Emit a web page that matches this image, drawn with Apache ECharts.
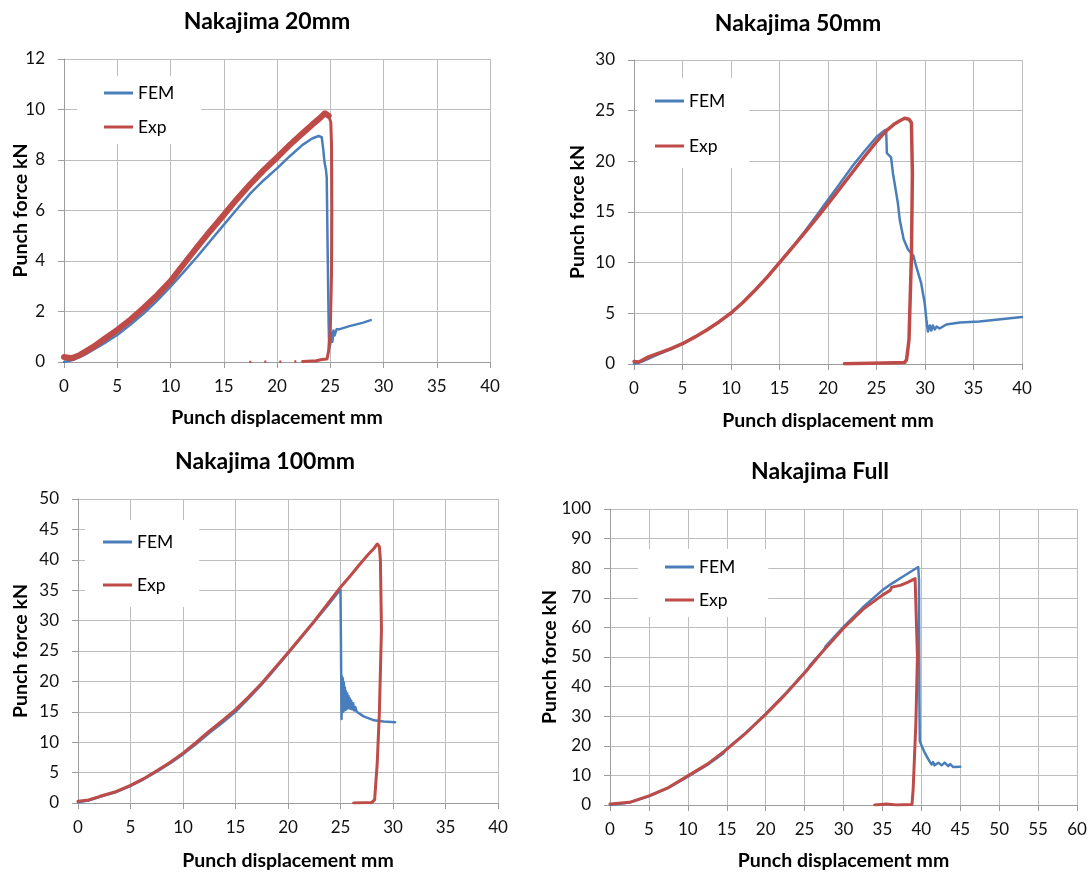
<!DOCTYPE html>
<html>
<head>
<meta charset="utf-8">
<script src="https://cdn.jsdelivr.net/npm/echarts@6/dist/echarts.min.js"></script>
<style>
  html, body { margin: 0; padding: 0; background: #fff; }
  #chart { width: 1090px; height: 872px; }
</style>
</head>
<body>
<div id="chart"></div>
<script>
// panel titles and axis ranges
const titles = ['Nakajima 20mm', 'Nakajima 50mm', 'Nakajima 100mm', 'Nakajima Full'];
const xMax = [40, 40, 40, 60];
const yMax = [12, 30, 50, 100];
const yStep = [2, 5, 5, 10];

// Nakajima 20mm  [displacement mm, force kN]
const fem20 = [[0,0],[1,0.1],[2,0.3],[3,0.55],[4,0.8],[5,1.07],[6.25,1.48],[7.5,1.93],[8.75,2.43],[10,2.98],[11.25,3.57],[12.5,4.17],[13.75,4.8],[15,5.43],[16.25,6.06],[17.5,6.68],[18.75,7.2],[20,7.67],[21.2,8.15],[22.4,8.6],[23.3,8.85],[23.9,8.95],[24.2,8.9],[24.35,8.4],[24.45,7.95],[24.6,7.6],[24.67,7.3],[24.76,4.3],[24.85,1.5],[24.9,0.55],[25.0,0.7],[25.1,1.15],[25.2,0.8],[25.3,1.25],[25.4,1.05],[25.6,1.3],[25.9,1.3],[26.8,1.42],[28.1,1.56],[28.8,1.66]];
const exp20Rise = [[0,0.2],[0.7,0.15],[1.5,0.28],[2.75,0.6],[3.75,0.9],[5,1.27],[6.25,1.68],[7.5,2.15],[8.75,2.65],[10,3.2],[11.25,3.88],[12.5,4.55],[13.75,5.2],[15,5.82],[16.25,6.46],[17.5,7.05],[18.75,7.6],[20,8.1],[21.2,8.6],[22.4,9.06],[23.3,9.4],[24,9.65],[24.5,9.85],[24.85,9.75]];
const exp20Drop = [[24.85,9.75],[25.05,9.5],[25.12,8.6],[25.15,6],[25.12,3.5],[25.0,1.2],[24.85,0.45],[24.7,0.12],[24.2,0.1],[23.7,0.05],[22.4,0.02]];
const exp20Dots = [[17.4,0],[22.4,0.02]];

// Nakajima 50mm
const fem50 = [[0,0],[1,0.3],[2.5,0.95],[3.75,1.45],[5,2.0],[6.25,2.65],[7.5,3.35],[8.75,4.15],[10,5.0],[11.25,6.1],[12.5,7.3],[13.75,8.6],[15,10.0],[16.25,11.45],[17.5,12.95],[18.75,14.55],[20,16.2],[21.25,17.85],[22.5,19.5],[23.75,21.0],[25,22.4],[25.5,22.8],[25.9,23.1],[26.0,22.9],[26.07,20.8],[26.5,20.4],[26.7,18.8],[27.2,15.9],[27.4,14.2],[27.8,12.3],[28.25,11.3],[28.8,10.7],[29.1,9.6],[29.6,8.0],[29.97,6.0],[30.14,4.4],[30.3,3.2],[30.5,3.8],[30.65,3.3],[30.8,3.8],[31.0,3.4],[31.2,3.7],[31.5,3.5],[32.2,3.9],[33.6,4.1],[35.6,4.2],[35.7,4.05],[35.8,4.25],[40,4.63]];
const exp50 = [[0,0.25],[0.5,0.2],[1.5,0.7],[2.5,1.05],[3.75,1.5],[5,2.0],[6.25,2.65],[7.5,3.35],[8.75,4.15],[10,5.03],[11.25,6.1],[12.5,7.3],[13.75,8.6],[15,10.0],[16.25,11.4],[17.5,12.85],[18.75,14.3],[20,15.8],[21.25,17.35],[22.5,18.9],[23.75,20.45],[25,21.95],[26,23.0],[26.8,23.65],[27.5,24.05],[27.9,24.25],[28.35,24.15],[28.6,23.8],[28.7,18.8],[28.6,10.6],[28.35,2.4],[28.1,0.43],[27.9,0.16],[25.7,0.1],[21.7,0.03]];

// Nakajima 100mm
const fem100 = [[0,0.1],[1,0.4],[2.1,1.0],[3.5,1.7],[5,2.8],[6.25,3.9],[7.5,5.15],[8.75,6.5],[10,8.0],[11.25,9.7],[12.5,11.5],[13.75,13.2],[15,15.0],[16.25,17.2],[17.5,19.5],[18.75,22.0],[20,24.6],[21.25,27.2],[22.5,29.8],[23.75,32.4],[25,35.1],[25.08,35.3],[25.1,13.8],[25.13,20.8],[25.17,16.0],[25.22,20.5],[25.27,15.0],[25.32,19.8],[25.37,15.5],[25.42,19.0],[25.47,15.3],[25.52,18.4],[25.58,15.5],[25.64,18.0],[25.7,15.6],[25.76,17.6],[25.82,15.6],[25.88,17.2],[25.95,15.5],[26.02,16.8],[26.1,15.4],[26.2,16.4],[26.3,15.2],[26.4,15.8],[26.55,15.0],[26.7,15.1],[27.2,14.25],[28.2,13.6],[29.1,13.4],[30.2,13.3]];
const exp100 = [[0,0.27],[1,0.5],[2.1,1.1],[3.5,1.8],[5,2.9],[6.25,4.0],[7.5,5.3],[8.75,6.65],[10,8.2],[11.25,9.95],[12.5,11.8],[13.75,13.55],[15,15.35],[16.25,17.45],[17.5,19.7],[18.75,22.2],[20,24.7],[21.25,27.3],[22.5,29.9],[23.75,32.7],[25,35.5],[26,37.5],[26.9,39.4],[27.7,41.0],[28.2,41.9],[28.5,42.6],[28.7,42.2],[28.8,40.0],[28.9,28.5],[28.7,14.8],[28.5,6.6],[28.25,0.55],[28.0,0.1],[26.25,0]];

// Nakajima Full
const femFull = [[0,0],[2.5,0.8],[5,2.9],[7.5,5.8],[10,9.6],[12.5,13.5],[14.6,17.5],[14.9,18.8],[17.5,24.5],[20,30.8],[22.5,37.5],[25,44.8],[25.5,46.2],[25.7,47.3],[27.5,52.5],[27.7,53.6],[30,60.2],[32.5,66.8],[35,72.6],[36.2,74.8],[37.7,77.3],[39.6,80.4],[39.7,76],[39.75,38],[39.8,21.6],[40.05,19.9],[40.45,17.6],[40.9,15.4],[41.3,13.7],[41.5,14.5],[41.7,13.4],[42.2,14.3],[42.6,13.4],[43.0,14.3],[43.45,13.1],[43.7,13.8],[44.1,12.8],[45,12.9]];
const expFull = [[0,0.3],[2.5,0.9],[5,3.1],[7.5,5.9],[10,9.85],[12.5,13.8],[15,18.8],[17.5,24.4],[20,30.6],[22.5,37.3],[25,44.6],[27.5,52.4],[30,59.7],[32.5,66.1],[35,70.9],[36,72.5],[36.2,73.6],[37.3,74.2],[38.3,75.3],[39.2,76.5],[39.4,76],[39.5,50.2],[39.3,27.8],[38.95,5.3],[38.8,0.2],[36.8,0],[35.5,0.3],[34,0]];

const BLUE = '#4a7ebb';
const RED = '#be4b48';
const FONT = 'Lato, "Noto Sans", sans-serif';

// layout of the four panels
const grids = [
  { left: 64, top: 59, width: 426, height: 303 },
  { left: 634, top: 60, width: 388, height: 304 },
  { left: 78, top: 499, width: 420, height: 304 },
  { left: 610, top: 509, width: 467, height: 297 }
];
const titlePos = [[267, 10], [798, 12], [265, 450], [820, 460]];
const yNameGap = [33, 46, 47, 50];
const xNameGap = [46, 47, 48, 46];
const legendBox = [
  { left: 77, top: 76, padding: [7, 27, 7, 27], itemGap: 14 },
  { left: 637, top: 78, padding: [13, 24, 12, 18], itemGap: 25 },
  { left: 85, top: 520, padding: [12, 26, 12, 18], itemGap: 23 },
  { left: 638, top: 549, padding: [8, 33, 7, 27], itemGap: 13 }
];

const line = (name, data, idx, color, width, extra) => Object.assign({
  name, type: 'line', data,
  xAxisIndex: idx, yAxisIndex: idx,
  showSymbol: false, symbol: 'none',
  lineStyle: { color, width, join: 'round', cap: 'round' },
  itemStyle: { color },
  animation: false
}, extra || {});

const chart = echarts.init(document.getElementById('chart'));

chart.setOption({
  backgroundColor: '#fff',
  animation: false,
  title: titles.map((t, i) => ({
    text: t,
    left: titlePos[i][0],
    top: titlePos[i][1],
    textAlign: 'center',
    padding: 0,
    textStyle: { fontFamily: FONT, fontSize: 23, fontWeight: 'bold', color: '#000' }
  })),
  legend: legendBox.map(b => ({
    data: ['FEM', 'Exp'],
    orient: 'vertical',
    left: b.left,
    top: b.top,
    padding: b.padding,
    itemGap: b.itemGap,
    backgroundColor: '#fff',
    icon: 'rect',
    itemWidth: 29,
    itemHeight: 3,
    selectedMode: false,
    textStyle: { fontFamily: FONT, fontSize: 17.5, color: '#000', lineHeight: 20 }
  })),
  grid: grids.map(g => Object.assign({ containLabel: false }, g)),
  xAxis: grids.map((g, i) => ({
    type: 'value', gridIndex: i,
    min: 0, max: xMax[i], interval: 5,
    name: 'Punch displacement mm',
    nameLocation: 'middle', nameGap: xNameGap[i],
    nameMoveOverlap: false,
    nameTextStyle: { fontFamily: FONT, fontSize: 19.5, fontWeight: 'bold', color: '#000' },
    axisLine: { show: true, lineStyle: { color: '#9c9c9c', width: 1 } },
    axisTick: { show: true, length: 6, lineStyle: { color: '#9c9c9c' } },
    axisLabel: { fontFamily: FONT, fontSize: 17, color: '#111', margin: 16 },
    splitLine: { show: true, lineStyle: { color: '#bdbdbd', width: 1 } }
  })),
  yAxis: grids.map((g, i) => ({
    type: 'value', gridIndex: i,
    min: 0, max: yMax[i], interval: yStep[i],
    name: 'Punch force kN',
    nameLocation: 'middle', nameGap: yNameGap[i], nameRotate: 90,
    nameMoveOverlap: false,
    nameTextStyle: { fontFamily: FONT, fontSize: 19.5, fontWeight: 'bold', color: '#000' },
    axisLine: { show: true, lineStyle: { color: '#9c9c9c', width: 1 } },
    axisTick: { show: true, length: 6, lineStyle: { color: '#9c9c9c' } },
    axisLabel: { fontFamily: FONT, fontSize: 17, color: '#111', margin: 19 },
    splitLine: { show: true, lineStyle: { color: '#bdbdbd', width: 1 } }
  })),
  series: [
    line('FEM', fem20, 0, BLUE, 2.5),
    line('Exp', exp20Rise, 0, RED, 6),
    line('Exp', exp20Drop, 0, RED, 3),
    line('Exp', exp20Dots, 0, RED, 2, { lineStyle: { color: RED, width: 2.5, type: [2, 13] } }),
    line('FEM', fem50, 1, BLUE, 2.5),
    line('Exp', exp50, 1, RED, 3.5),
    line('FEM', fem100, 2, BLUE, 2.5),
    line('Exp', exp100, 2, RED, 3),
    line('FEM', femFull, 3, BLUE, 2.5),
    line('Exp', expFull, 3, RED, 3)
  ]
});
</script>
</body>
</html>
